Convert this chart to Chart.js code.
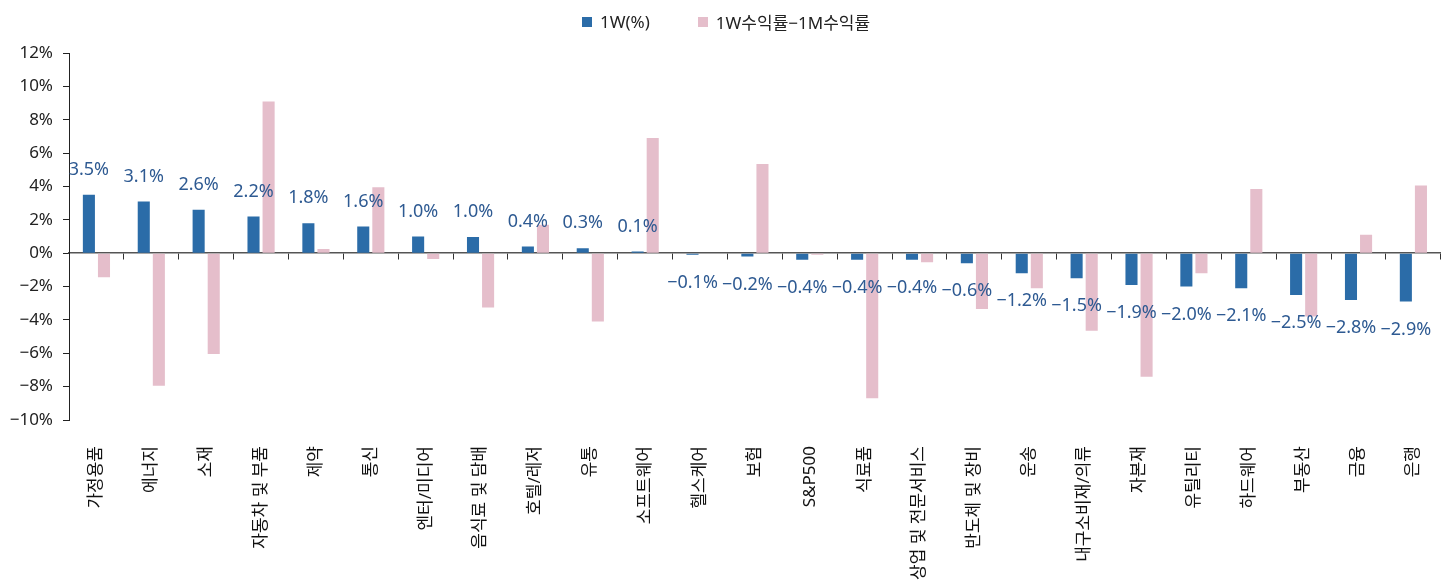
<!DOCTYPE html>
<html lang="ko">
<head>
<meta charset="utf-8">
<title>1W 섹터 수익률</title>
<script src="https://cdn.jsdelivr.net/npm/chart.js@4/dist/chart.umd.min.js"></script>
<style>
  html, body { margin: 0; padding: 0; background: #fff; }
  #wrap { position: relative; width: 1452px; height: 583px; overflow: hidden; }
  #legend {
    position: absolute; top: 9px; left: 0; width: 100%;
    display: flex; justify-content: center; gap: 48px;
    font: 17px "Noto Sans", "Noto Sans CJK KR", sans-serif; color: #222;
  }
  #legend span.item { display: flex; align-items: center; }
  #legend i { display: inline-block; width: 10px; height: 10px; margin-right: 8px; }
</style>
</head>
<body>
<div id="wrap">
  <div id="legend">
    <span class="item"><i style="background:#2B6CA8"></i>1W(%)</span>
    <span class="item"><i style="background:#E5BECB"></i>1W수익률−1M수익률</span>
  </div>
  <canvas id="chart" width="1452" height="583"></canvas>
</div>
<script>
// ── Data ────────────────────────────────────────────────────────────────────
const sectors = [
  "가정용품", "에너지", "소재", "자동차 및 부품", "제약", "통신", "엔터/미디어",
  "음식료 및 담배", "호텔/레저", "유통", "소프트웨어", "헬스케어", "보험", "S&P500",
  "식료품", "상업 및 전문서비스", "반도체 및 장비", "운송", "내구소비재/의류",
  "자본재", "유틸리티", "하드웨어", "부동산", "금융", "은행"
];
// 1W return (%)
const weekReturn = [
  3.5, 3.1, 2.6, 2.2, 1.8, 1.6, 1.0, 0.97, 0.4, 0.3, 0.1, -0.1, -0.2,
  -0.4, -0.4, -0.4, -0.6, -1.2, -1.5, -1.9, -2.0, -2.1, -2.5, -2.8, -2.9
];
// 1W return minus 1M return (%p)
const weekMinusMonth = [
  -1.45, -7.95, -6.05, 9.1, 0.25, 3.95, -0.35, -3.25, 1.7, -4.1, 6.9, -0.03, 5.35,
  -0.1, -8.7, -0.55, -3.35, -2.1, -4.65, -7.4, -1.2, 3.85, -3.8, 1.1, 4.05
];
const yTicks = [-10, -8, -6, -4, -2, 0, 2, 4, 6, 8, 10, 12];

const BLUE = "#2B6CA8";
const PINK = "#E5BECB";
const LABEL_BLUE = "#2E5A92";
const FONT = "'Noto Sans', 'Noto Sans CJK KR', sans-serif";

const fmtPct = v => (v < 0 ? "−" : "") + Math.abs(v) + "%";

// ── Value labels above / below the 1W bars ───────────────────────────────────
const valueLabels = {
  id: "valueLabels",
  afterDatasetsDraw(chart) {
    const ctx = chart.ctx;
    const meta = chart.getDatasetMeta(0);
    ctx.save();
    ctx.font = "18px " + FONT;
    ctx.fillStyle = LABEL_BLUE;
    ctx.textAlign = "center";
    ctx.textBaseline = "middle";
    meta.data.forEach((bar, i) => {
      const v = weekReturn[i];
      const txt = (v < 0 ? "−" : "") + Math.abs(v).toFixed(1) + "%";
      const y = v >= 0 ? bar.y - 25 : bar.y + 28;
      ctx.fillText(txt, bar.x, y);
    });
    ctx.restore();
  }
};

new Chart(document.getElementById("chart"), {
  type: "bar",
  data: {
    labels: sectors,
    datasets: [
      { label: "1W(%)", data: weekReturn, backgroundColor: BLUE, xAxisID: "x" },
      { label: "1W수익률−1M수익률", data: weekMinusMonth, backgroundColor: PINK, xAxisID: "x" },
    ],
  },
  options: {
    responsive: false,
    animation: false,
    categoryPercentage: 0.55,
    barPercentage: 0.8,
    layout: { padding: { top: 53, right: 10, left: 0, bottom: 0 } },
    plugins: { legend: { display: false }, tooltip: { enabled: false } },
    scales: {
      // axis line sitting on 0% with small ticks between categories
      x: {
        type: "category",
        position: { y: 0 },
        offset: true,
        ticks: { display: false },
        grid: { offset: true, drawOnChartArea: false, drawTicks: true, tickLength: 6, color: "#333" },
        border: { display: true, color: "#555", width: 1.5 },
      },
      // sector names along the bottom
      xl: {
        type: "category",
        position: "bottom",
        offset: true,
        grid: { display: false },
        border: { display: false },
        ticks: {
          minRotation: 90, maxRotation: 90, autoSkip: false, padding: 18,
          color: "#111", font: { size: 17, family: FONT },
        },
        afterFit: s => { s.height = 163; },
      },
      y: {
        min: -10, max: 12,
        afterBuildTicks: s => { s.ticks = yTicks.map(v => ({ value: v })); },
        ticks: { color: "#222", padding: 10, font: { size: 17, family: FONT }, callback: v => fmtPct(v) },
        grid: { drawOnChartArea: false, drawTicks: true, tickLength: 6, color: "#222" },
        border: { display: true, color: "#222", width: 1 },
        afterFit: s => { s.width = 69; },
      },
    },
  },
  plugins: [valueLabels],
});
</script>
</body>
</html>
